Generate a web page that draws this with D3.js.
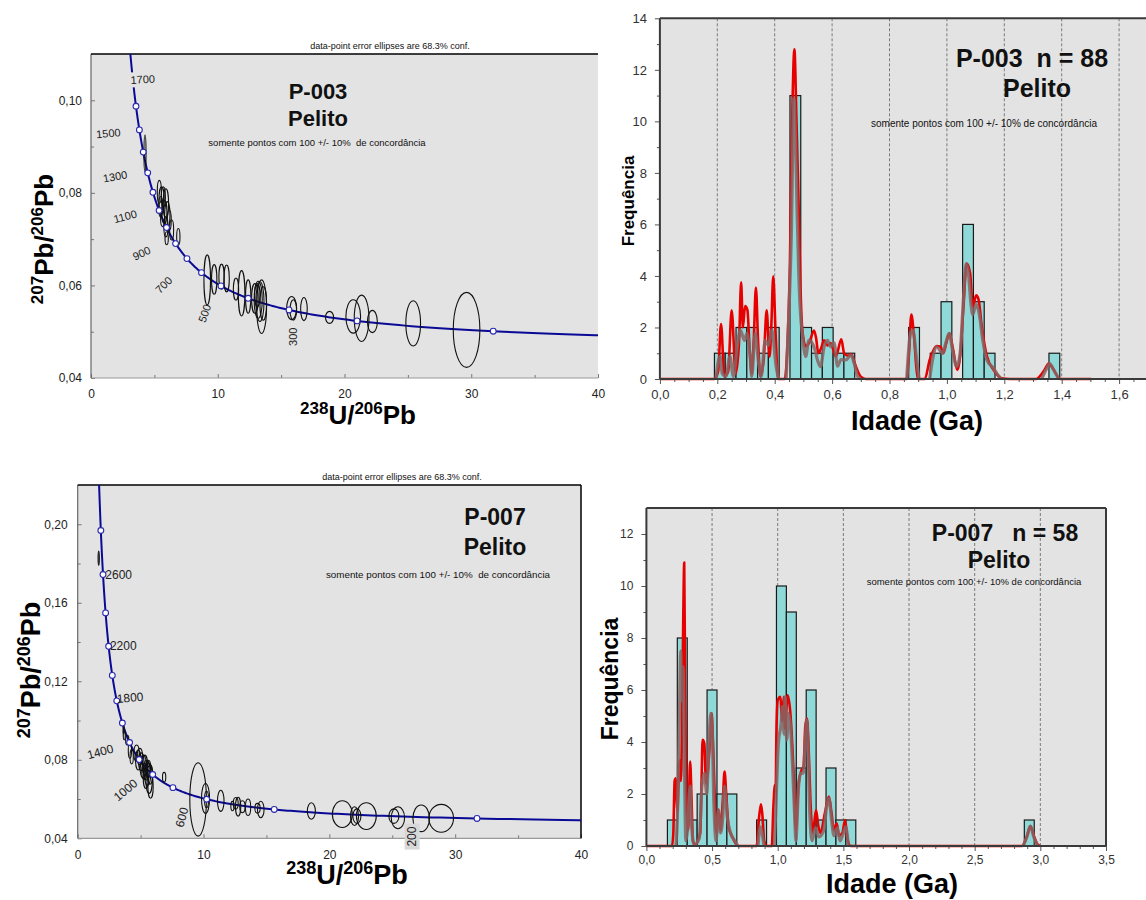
<!DOCTYPE html>
<html><head><meta charset="utf-8">
<script src="https://cdn.jsdelivr.net/npm/d3@7"></script>
<style>
body{margin:0;background:#fff}
svg{display:block}
text{font-family:"Liberation Sans",Arial,sans-serif;white-space:pre}
</style>
</head><body>
<svg id="c" width="1146" height="900"></svg>
<script>
// ================= DATA =================
const p003MarkerAges = [200,300,400,500,600,700,800,900,1000,1100,1200,1300,1400,1500,1600];
const p003LabelAges  = [1700,1500,1300,1100,900,700,500,300];
const p007MarkerAges = [200,400,600,800,1000,1200,1400,1600,1800,2000,2200,2400,2600,2800];
const p007LabelAges  = [2600,2200,1800,1400,1000,600,200];

const p003EllX  = [4.26,5.39,5.57,5.71,5.91,5.50,5.78,6.02,5.65,6.17,5.91,6.36,6.89,5.97,
                   9.17,9.72,10.30,10.70,11.44,11.88,12.40,12.93,13.19,13.33,13.46,13.59,13.12,
                   15.83,15.96,16.80,18.82,20.69,21.35,22.20,25.42,29.63];
const p003EllY  = [0.0885,0.0802,0.0784,0.0791,0.0777,0.0770,0.0759,0.0752,0.0745,0.0741,0.0727,0.0720,0.0705,0.0702,
                   0.0612,0.0613,0.0619,0.0615,0.0592,0.0583,0.0576,0.0572,0.0569,0.0565,0.0554,0.0561,0.0579,
                   0.0551,0.0547,0.0549,0.0531,0.0533,0.0529,0.0522,0.0518,0.0504];
const p003EllSX = [0.08,0.16,0.21,0.16,0.21,0.16,0.21,0.21,0.16,0.16,0.16,0.16,0.13,0.13,
                   0.26,0.21,0.21,0.21,0.21,0.26,0.21,0.26,0.32,0.32,0.39,0.26,0.21,
                   0.39,0.26,0.26,0.32,0.58,0.58,0.39,0.58,1.05];
const p003EllSY = [0.0040,0.0025,0.0029,0.0022,0.0032,0.0022,0.0025,0.0029,0.0018,0.0022,0.0022,0.0022,0.0018,0.0014,
                   0.0054,0.0032,0.0027,0.0029,0.0024,0.0049,0.0036,0.0032,0.0040,0.0043,0.0058,0.0036,0.0025,
                   0.0025,0.0022,0.0025,0.0013,0.0036,0.0050,0.0024,0.0049,0.0081];

const p007EllX  = [1.67,3.65,3.70,3.94,4.15,4.29,4.68,4.81,4.94,5.21,5.34,5.48,5.60,5.68,5.79,5.42,6.87,
                   9.57,10.16,10.24,11.37,12.30,12.56,12.75,13.09,13.54,14.29,14.55,18.57,21.03,22.00,22.19,
                   22.94,25.13,25.45,27.30,28.89,5.05,5.55,5.30,5.75];
const p007EllY  = [0.1827,0.0952,0.0926,0.0900,0.0850,0.0816,0.0833,0.0799,0.0816,0.0765,0.0773,0.0748,0.0756,0.0705,0.0663,0.0705,0.0711,
                   0.0598,0.0603,0.0598,0.0591,0.0564,0.0578,0.0561,0.0561,0.0558,0.0553,0.0547,0.0539,0.0523,0.0513,0.0513,
                   0.0513,0.0513,0.0505,0.0502,0.0502,0.0790,0.0730,0.0740,0.0725];
const p007EllSX = [0.05,0.05,0.08,0.13,0.13,0.13,0.21,0.21,0.21,0.26,0.21,0.26,0.21,0.26,0.21,0.21,0.13,
                   0.66,0.32,0.16,0.26,0.13,0.19,0.21,0.21,0.21,0.21,0.26,0.32,0.79,0.32,0.32,
                   0.79,0.40,0.53,0.66,0.98,0.21,0.26,0.21,0.21];
const p007EllSY = [0.0036,0.0020,0.0025,0.0025,0.0042,0.0037,0.0042,0.0051,0.0042,0.0059,0.0051,0.0051,0.0042,0.0076,0.0059,0.0051,0.0025,
                   0.0187,0.0076,0.0042,0.0054,0.0024,0.0030,0.0048,0.0030,0.0042,0.0025,0.0042,0.0042,0.0068,0.0048,0.0037,
                   0.0068,0.0037,0.0056,0.0068,0.0071,0.0045,0.0060,0.0040,0.0050];

const p003BinStart = 0.19, p003BinWidth = 0.0376;
const p003Counts = [1,1,2,2,1,2,0,11,2,1,2,1,1,0,0,0,0,0,2,0,1,3,0,6,3,1,0,0,0,0,0,1];
const p007BinStart = 0.16, p007BinWidth = 0.0755;
const p007Counts = [1,8,1,2,6,2,2,0,0,1,0,10,9,3,6,1,3,1,1,0,0,0,0,0,0,0,0,0,0,0,0,0,0,0,0,0,1];

const p003Red = [[0,0],[0.19,0],[0.203,0.3],[0.213,2.13],[0.2246,0.1],[0.238,0.3],[0.250,2.67],[0.264,0.2],[0.276,1.5],[0.283,3.75],[0.289,2.0],[0.297,2.83],[0.305,2.67],[0.312,1.3],[0.32,0.2],[0.327,1.5],[0.3345,3.55],[0.342,1.5],[0.35,0.1],[0.362,0.8],[0.372,2.67],[0.382,0.87],[0.388,2.0],[0.395,3.99],[0.403,1.8],[0.412,0],[0.435,0],[0.445,1.5],[0.453,4.5],[0.46,9.5],[0.4686,12.8],[0.476,10],[0.483,6.9],[0.49,3.5],[0.496,1.94],[0.508,1.27],[0.52,1.4],[0.537,1.88],[0.544,1.6],[0.552,1.0],[0.562,1.2],[0.572,1.5],[0.584,1.3],[0.595,1.4],[0.613,0.87],[0.632,1.54],[0.642,1.0],[0.655,0.9],[0.666,0.97],[0.683,0.48],[0.70,0.09],[0.718,0],[0.86,0],[0.868,1.0],[0.876,2.5],[0.885,1.7],[0.894,0.4],[0.899,0],[0.923,0],[0.94,0.74],[0.964,1.28],[0.978,1.25],[0.987,1.0],[0.998,1.4],[1.008,1.77],[1.022,1.12],[1.036,0.35],[1.046,0.87],[1.057,2.67],[1.069,4.48],[1.081,4.1],[1.09,2.8],[1.102,3.25],[1.11,3.1],[1.122,2.0],[1.139,0.9],[1.163,0.35],[1.19,0.03],[1.22,0],[1.31,0],[1.34,0.35],[1.355,0.6],[1.37,0.4],[1.394,0],[1.503,0]];
const p003Brown = [
  [[0.195,0],[0.209,0.87],[0.2176,0.2],[0.23,0.1],[0.244,0.87],[0.256,0.1],[0.271,1.4],[0.28,1.9],[0.295,1.5],[0.303,1.77],[0.315,0.8],[0.32,0.1],[0.332,1.77],[0.344,0.6],[0.353,0.1],[0.367,1.5],[0.378,1.3],[0.39,1.9],[0.405,0.48],[0.414,0]],
  [[0.44,0],[0.449,2.4],[0.458,5.6],[0.467,10.9],[0.472,9.5],[0.478,6.5],[0.484,4.0],[0.49,2.5],[0.496,1.77],[0.508,0.87],[0.519,1.5],[0.537,1.25],[0.549,0.74],[0.56,0.48],[0.572,1.25],[0.584,1.5],[0.595,1.25],[0.607,1.4],[0.619,0.5],[0.631,0.75],[0.648,0.74],[0.666,0.93],[0.677,0.6],[0.689,0.1],[0.70,0]],
  [[0.86,0],[0.873,1.77],[0.882,1.9],[0.894,0.8],[0.903,0]],
  [[0.94,0],[0.952,0.87],[0.964,1.25],[0.985,1.0],[0.996,1.4],[1.008,1.77],[1.02,1.1],[1.034,0.48],[1.046,1.0],[1.057,3.0],[1.067,4.48],[1.075,4.1],[1.083,3.0],[1.09,2.5],[1.102,2.9],[1.113,2.5],[1.125,1.5],[1.139,0.74],[1.16,0.45],[1.175,0.2],[1.19,0]],
  [[1.33,0],[1.345,0.35],[1.358,0.6],[1.372,0.35],[1.39,0]]
];
const p007Red = [[0,0],[0.195,0],[0.205,0.49],[0.215,2.5],[0.223,2.6],[0.229,2.0],[0.236,1.3],[0.245,2.5],[0.255,3.3],[0.262,2.5],[0.27,4.0],[0.28,8.5],[0.288,10.9],[0.295,6.0],[0.30,3.05],[0.308,1.1],[0.318,0.6],[0.333,3.25],[0.344,1.77],[0.354,0.2],[0.37,0.05],[0.41,0.5],[0.42,2.5],[0.428,4.08],[0.441,3.95],[0.454,2.4],[0.467,2.8],[0.487,4.3],[0.497,5.1],[0.505,4.3],[0.518,2.3],[0.531,0.5],[0.549,1.4],[0.564,0.6],[0.582,1.77],[0.595,2.86],[0.608,2.0],[0.626,0.74],[0.659,0.3],[0.697,0],[0.84,0],[0.856,1.0],[0.872,1.6],[0.882,1.26],[0.897,0.2],[0.915,0],[0.955,0],[0.967,1.5],[0.979,2.35],[0.985,2.3],[0.99,4.3],[1.0,5.6],[1.021,5.74],[1.033,4.8],[1.046,5.74],[1.056,4.5],[1.075,5.8],[1.095,5.2],[1.121,2.8],[1.138,0.6],[1.159,2.4],[1.18,2.9],[1.197,3.05],[1.21,4.6],[1.223,4.9],[1.236,3.7],[1.249,1.77],[1.267,0.5],[1.292,1.38],[1.308,0.8],[1.326,0.5],[1.359,1.26],[1.39,1.9],[1.41,1.26],[1.428,0.6],[1.449,0.87],[1.467,0.4],[1.492,0.5],[1.513,1.0],[1.53,0.3],[1.556,0],[2.86,0],[2.9,0.4],[2.924,0.77],[2.95,0.4],[2.98,0.05],[3.0,0]];
const p007Brown = [
  [[0.225,0],[0.236,1.1],[0.249,4.3],[0.262,7.5],[0.269,5.6],[0.279,6.9],[0.29,3.05],[0.30,0.2],[0.313,0.6],[0.333,2.3],[0.344,0.8],[0.364,0.05],[0.403,0.3],[0.423,2.3],[0.441,2.8],[0.459,2.0],[0.474,3.56],[0.49,5.1],[0.50,4.6],[0.513,1.77],[0.531,0.2],[0.549,1.38],[0.564,0.5],[0.582,1.13],[0.595,2.3],[0.615,1.13],[0.641,0.5],[0.672,0.2],[0.697,0]],
  [[0.85,0],[0.867,0.74],[0.88,0.5],[0.895,0]],
  [[0.975,0],[0.992,2.3],[1.005,3.95],[1.026,4.7],[1.036,5.36],[1.049,4.3],[1.056,5.74],[1.069,4.08],[1.082,5.1],[1.097,4.6],[1.113,3.05],[1.128,1.26],[1.138,0.2],[1.159,2.3],[1.174,2.8],[1.195,2.8],[1.21,4.08],[1.221,4.85],[1.231,3.8],[1.244,1.26],[1.262,0.2],[1.287,0.7],[1.313,0.35],[1.351,0.6],[1.372,1.5],[1.39,1.83],[1.41,1.0],[1.428,0.4],[1.454,0.7],[1.474,0.2],[1.497,0.45],[1.518,0.74],[1.538,0]],
  [[2.87,0],[2.9,0.4],[2.924,0.77],[2.95,0.35],[2.98,0]]
];

// ================= STYLE / LAYOUT =================
const PLOT_BG = "#e3e3e3";
const FONT = '"Liberation Sans",Arial,sans-serif';
const svg = d3.select("#c");
const fmt2 = d => d3.format(".2f")(d).replace(".", ",");
const fmt1 = d => d3.format(".1f")(d).replace(".", ",");

// Tera-Wasserburg concordia from the U decay constants
const L238 = 1.55125e-10, L235 = 9.8485e-10, U85 = 137.88;
function tw(ageMa){
  const t = ageMa*1e6, e8 = Math.exp(L238*t)-1, e5 = Math.exp(L235*t)-1;
  return [1/e8, e5/e8/U85];
}

function txt(g, s, x, y, size, opts={}){
  return g.append("text").attr("x",x).attr("y",y).attr("font-size",size)
    .attr("font-weight",opts.bold?"bold":"normal").attr("text-anchor",opts.anchor||"middle")
    .attr("font-family",opts.font||FONT).attr("fill",opts.fill||"#111").text(s);
}
function supTitle(g, parts, x, y, big, small, rot){
  const t = g.append("text").attr("text-anchor","middle").attr("font-weight","bold")
    .attr("font-family",FONT).attr("fill","#000")
    .attr("transform",`translate(${x},${y}) rotate(${rot||0})`);
  let prevSup=false;
  parts.forEach(p=>{
    const sp = t.append("tspan").text(p[0]);
    if(p[1]){ sp.attr("font-size",small).attr("dy", prevSup?0:-big*0.38); prevSup=true; }
    else { sp.attr("font-size",big).attr("dy", prevSup?big*0.38:0); prevSup=false; }
  });
}

function drawConcordia(o){
  const g = svg.append("g");
  const x = d3.scaleLinear().domain([0,40]).range([o.left,o.right]);
  const y = d3.scaleLinear().domain(o.yDomain).range([o.bottom,o.top]);
  const cid = o.id+"-clip";
  svg.append("clipPath").attr("id",cid).append("rect")
    .attr("x",o.left).attr("y",o.top).attr("width",o.right-o.left).attr("height",o.bottom-o.top);
  g.append("rect").attr("x",o.left).attr("y",o.top).attr("width",o.right-o.left)
    .attr("height",o.bottom-o.top).attr("fill",PLOT_BG);

  const ya = g.append("g").attr("transform",`translate(${o.left},0)`)
    .call(d3.axisLeft(y).tickValues(o.yMajor).tickSizeInner(-4).tickSizeOuter(0).tickPadding(o.yPad).tickFormat(fmt2));
  const ym = g.append("g").attr("transform",`translate(${o.left},0)`)
    .call(d3.axisLeft(y).tickValues(o.yMinor).tickSizeInner(-3).tickSizeOuter(0).tickFormat(""));
  const xa = g.append("g").attr("transform",`translate(0,${o.bottom})`)
    .call(d3.axisBottom(x).tickValues([0,10,20,30,40]).tickSizeInner(-4).tickSizeOuter(0).tickPadding(o.xPad).tickFormat(d3.format("d")));
  const xm = g.append("g").attr("transform",`translate(0,${o.bottom})`)
    .call(d3.axisBottom(x).tickValues([5,15,25,35]).tickSizeInner(-3).tickSizeOuter(0).tickFormat(""));
  [ya,ym,xa,xm].forEach(a=>{
    a.select(".domain").remove();
    a.selectAll(".tick line").attr("stroke","#777");
    a.selectAll(".tick text").attr("font-size",12).attr("font-family",FONT).attr("fill","#222");
  });
  g.append("line").attr("x1",o.left).attr("x2",o.right).attr("y1",o.bottom).attr("y2",o.bottom).attr("stroke","#999").attr("stroke-width",1.2);
  g.append("line").attr("x1",o.left).attr("x2",o.left).attr("y1",o.top).attr("y2",o.bottom).attr("stroke","#666").attr("stroke-width",1.2);
  g.append("line").attr("x1",o.left).attr("x2",o.right).attr("y1",o.top).attr("y2",o.top).attr("stroke","#000").attr("stroke-width",1.5);
  if(o.rightBorder) g.append("line").attr("x1",o.right).attr("x2",o.right).attr("y1",o.top).attr("y2",o.bottom).attr("stroke","#000").attr("stroke-width",1.5);

  const pg = g.append("g").attr("clip-path",`url(#${cid})`);
  const curveAges = d3.range(100, 3201, 5);
  pg.append("path").datum(curveAges.map(tw))
    .attr("d", d3.line().x(d=>x(d[0])).y(d=>y(d[1])))
    .attr("fill","none").attr("stroke","#0a0a96").attr("stroke-width",2);
  pg.selectAll("ellipse.e").data(o.ellX.map((v,i)=>i)).join("ellipse")
    .attr("cx",i=>x(o.ellX[i])).attr("cy",i=>y(o.ellY[i]))
    .attr("rx",i=>x(o.ellX[i]+o.ellSX[i])-x(o.ellX[i]))
    .attr("ry",i=>y(o.ellY[i])-y(o.ellY[i]+o.ellSY[i]))
    .attr("fill","none").attr("stroke","#111").attr("stroke-width",1.1);
  pg.selectAll("circle.m").data(o.markers.map(tw)).join("circle")
    .attr("cx",d=>x(d[0])).attr("cy",d=>y(d[1])).attr("r",2.9)
    .attr("fill","#fff").attr("stroke","#2a2ab0").attr("stroke-width",1.1);
  o.labels.forEach((age,i)=>{
    const s = o.labelStyle[i], p = tw(age);
    const lg = g.append("g").attr("transform",`translate(${x(p[0])+s[0]},${y(p[1])+s[1]}) rotate(${s[2]})`);
    if(s[3]) lg.append("rect").attr("x",-13).attr("y",-7.5).attr("width",26).attr("height",15).attr("fill",s[3]);
    lg.append("text").attr("text-anchor","middle").attr("dy","0.35em").attr("font-size",o.labelSize)
      .attr("font-family",FONT).attr("fill","#222").text(age);
  });

  txt(g,"data-point error ellipses are 68.3% conf.",o.noteX,o.noteY,9);
  txt(g,o.name,o.nameX,o.nameY,o.nameSize,{bold:true});
  txt(g,"Pelito",o.nameX,o.nameY+o.peliteDy,o.nameSize,{bold:true});
  txt(g,"somente pontos com 100 +/- 10%  de concordância",o.subX,o.subY,o.subSize);
  supTitle(g,[["238",1],["U/",0],["206",1],["Pb",0]],o.xtX,o.xtY,o.titleBig,o.titleSmall,0);
  supTitle(g,[["207",1],["Pb/",0],["206",1],["Pb",0]],o.ytX,o.ytY,o.titleBig,o.titleSmall,-90);
}

function drawHist(o){
  const g = svg.append("g");
  const x = d3.scaleLinear().domain([0,o.xMax]).range([o.left,o.right]);
  const y = d3.scaleLinear().domain([0,o.yMax]).range([o.bottom,o.top]);
  g.append("rect").attr("x",o.left).attr("y",o.top).attr("width",o.right-o.left)
    .attr("height",o.bottom-o.top).attr("fill",PLOT_BG);
  g.selectAll("line.grid").data(o.grid).join("line")
    .attr("x1",d=>x(d)).attr("x2",d=>x(d)).attr("y1",o.top).attr("y2",o.bottom)
    .attr("stroke","#7a7a7a").attr("stroke-width",1).attr("stroke-dasharray","3,2");
  const bins = o.counts.map((c,i)=>({x0:o.binStart+i*o.binWidth, x1:o.binStart+(i+1)*o.binWidth, c})).filter(b=>b.c>0);
  g.selectAll("rect.bar").data(bins).join("rect")
    .attr("x",d=>x(d.x0)).attr("width",d=>x(d.x1)-x(d.x0))
    .attr("y",d=>y(d.c)).attr("height",d=>y(0)-y(d.c))
    .attr("fill","#8fdad8").attr("stroke","#1a1a1a").attr("stroke-width",1.2);
  const line = d3.line().x(d=>x(d[0])).y(d=>y(d[1])).curve(d3.curveMonotoneX);
  g.append("path").datum(o.red).attr("d",line).attr("fill","none")
    .attr("stroke","#e60000").attr("stroke-width",2.6).attr("stroke-linejoin","round");
  o.brown.forEach(seg=>{
    g.append("path").datum(seg).attr("d",line).attr("fill","none")
      .attr("stroke","rgb(135,100,100)").attr("stroke-opacity",0.85).attr("stroke-width",3.2).attr("stroke-linejoin","round");
  });
  const ya = g.append("g").attr("transform",`translate(${o.left},0)`)
    .call(d3.axisLeft(y).tickValues(d3.range(0,o.yMax+0.1,2)).tickSizeInner(5).tickSizeOuter(0).tickPadding(8).tickFormat(d3.format("d")));
  const ym = g.append("g").attr("transform",`translate(${o.left},0)`)
    .call(d3.axisLeft(y).tickValues(d3.range(1,o.yMax,2)).tickSizeInner(3).tickSizeOuter(0).tickFormat(""));
  const xa = g.append("g").attr("transform",`translate(0,${o.bottom})`)
    .call(d3.axisBottom(x).tickValues(o.xMajor).tickSizeInner(5).tickSizeOuter(0).tickPadding(o.xPad).tickFormat(fmt1));
  const xm = g.append("g").attr("transform",`translate(0,${o.bottom})`)
    .call(d3.axisBottom(x).tickValues(o.xMinor).tickSizeInner(3).tickSizeOuter(0).tickFormat(""));
  [ya,ym,xa,xm].forEach(a=>{
    a.select(".domain").remove();
    a.selectAll(".tick line").attr("stroke","#555");
    a.selectAll(".tick text").attr("font-size",o.tickSize).attr("font-family",FONT).attr("fill","#333");
  });
  const bc = "#3a3a3a";
  g.append("line").attr("x1",o.left).attr("x2",o.right).attr("y1",o.bottom).attr("y2",o.bottom).attr("stroke",bc).attr("stroke-width",2);
  g.append("line").attr("x1",o.left).attr("x2",o.left).attr("y1",o.top).attr("y2",o.bottom).attr("stroke",bc).attr("stroke-width",2);
  g.append("line").attr("x1",o.left).attr("x2",o.right).attr("y1",o.top).attr("y2",o.top).attr("stroke",bc).attr("stroke-width",2);
  if(o.rightBorder) g.append("line").attr("x1",o.right).attr("x2",o.right).attr("y1",o.top).attr("y2",o.bottom).attr("stroke",bc).attr("stroke-width",2);

  txt(g,o.title,o.tX,o.tY,o.tSize,{bold:true});
  txt(g,"Pelito",o.pX,o.pY,o.tSize,{bold:true});
  txt(g,"somente pontos com 100 +/- 10% de concordância",o.sX,o.sY,o.sSize);
  g.append("text").attr("transform",`translate(${o.yTitleX},${o.yTitleY}) rotate(-90)`)
    .attr("text-anchor","middle").attr("font-weight","bold").attr("font-size",o.yTitleSize)
    .attr("font-family",FONT).attr("fill","#000").text("Frequência");
  txt(g,"Idade (Ga)",o.xTitleX,o.xTitleY,o.xTitleSize,{bold:true,font:'Lato,"Open Sans",sans-serif',fill:"#000"});
}

// ================= PANELS =================
drawConcordia({
  id:"p003c", left:91, right:598, top:54, bottom:378, yDomain:[0.04,0.11],
  yMajor:[0.04,0.06,0.08,0.10], yMinor:[0.05,0.07,0.09], yPad:9, xPad:11,
  ellX:p003EllX, ellY:p003EllY, ellSX:p003EllSX, ellSY:p003EllSY,
  markers:p003MarkerAges, labels:p003LabelAges, labelSize:11,
  labelStyle:[[9.7,-1.5,-3,PLOT_BG],[-31,3.4,-5],[-32.7,3.7,-10],[-34,6,-15],[-34,9.7,-25],[-37.7,12.3,-45],[-43.5,15,-70],[-64.3,15.8,-90]],
  rightBorder:false,
  noteX:390, noteY:49, name:"P-003", nameX:318, nameY:99, peliteDy:27, nameSize:22,
  subX:317, subY:146, subSize:9.5,
  xtX:358, xtY:424, ytX:53, ytY:239, titleBig:26, titleSmall:17
});
drawConcordia({
  id:"p007c", left:77.7, right:581, top:485, bottom:838.3, yDomain:[0.04,0.22],
  yMajor:[0.04,0.08,0.12,0.16,0.20], yMinor:[0.06,0.10,0.14,0.18], yPad:10, xPad:12,
  ellX:p007EllX, ellY:p007EllY, ellSX:p007EllSX, ellSY:p007EllSY,
  markers:p007MarkerAges, labels:p007LabelAges, labelSize:12,
  labelStyle:[[15.6,0.4,0],[14.6,-0.5,0],[13.3,-3.2,-5],[-29.3,9.2,-15],[-27.2,15.5,-40],[-24.9,18,-75],[-64.9,18.1,-90,"#d8d8d8"]],
  rightBorder:true,
  noteX:402, noteY:480, name:"P-007", nameX:495, nameY:525, peliteDy:30, nameSize:23,
  subX:438, subY:578, subSize:9.8,
  xtX:347, xtY:884, ytX:40, ytY:670, titleBig:27, titleSmall:18
});
drawHist({
  left:659.9, right:659.9+287*1.8, top:18.3, bottom:379, xMax:1.8, yMax:14,
  grid:[0.2,0.4,0.6,0.8,1.0,1.2,1.4,1.6],
  xMajor:[0,0.2,0.4,0.6,0.8,1.0,1.2,1.4,1.6], xMinor:d3.range(0.05,1.8,0.05).filter(v=>Math.abs(v*5-Math.round(v*5))>1e-6),
  xPad:6, tickSize:13,
  counts:p003Counts, binStart:p003BinStart, binWidth:p003BinWidth,
  red:p003Red, brown:p003Brown, rightBorder:false,
  title:"P-003  n = 88", tX:1032, tY:67, pX:1037, pY:97, tSize:25,
  sX:984, sY:127, sSize:10,
  yTitleX:634, yTitleY:201, yTitleSize:17,
  xTitleX:917, xTitleY:430, xTitleSize:27
});
drawHist({
  left:646.4, right:1106, top:508, bottom:846, xMax:3.5, yMax:13,
  grid:[0.5,1.0,1.5,2.0,2.5,3.0],
  xMajor:[0,0.5,1.0,1.5,2.0,2.5,3.0,3.5], xMinor:d3.range(0.1,3.5,0.1).filter(v=>Math.abs(v*2-Math.round(v*2))>1e-6),
  xPad:4, tickSize:12,
  counts:p007Counts, binStart:p007BinStart, binWidth:p007BinWidth,
  red:p007Red, brown:p007Brown, rightBorder:true,
  title:"P-007   n = 58", tX:1005, tY:541, pX:999, pY:568, tSize:23,
  sX:974, sY:585, sSize:9.5,
  yTitleX:618, yTitleY:679, yTitleSize:23,
  xTitleX:892, xTitleY:893, xTitleSize:27
});
</script>
</body></html>
